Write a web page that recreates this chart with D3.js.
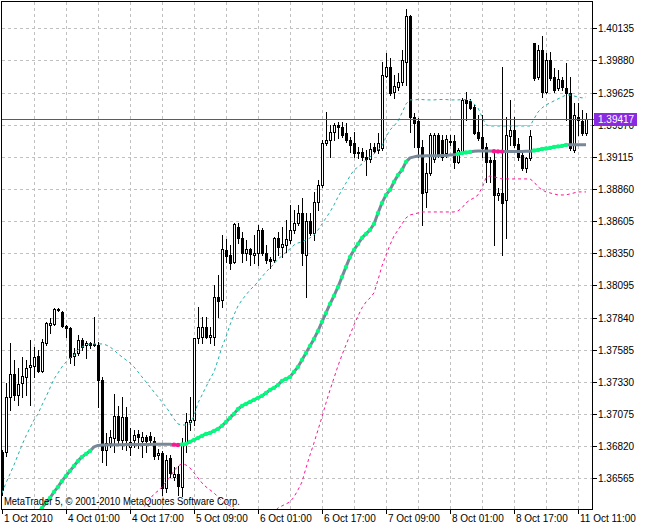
<!DOCTYPE html>
<html><head><meta charset="utf-8">
<script src="https://cdn.jsdelivr.net/npm/d3@7"></script>
<style>
body{margin:0;background:#fff}
svg{display:block}
text{font-family:"Liberation Sans",Arial,sans-serif;font-size:10px;fill:#000}
</style>
</head><body>
<svg id="chart" width="646" height="527"></svg>
<script>
// ---------- DATA (EURUSD H1) ----------
const opens = [1.36774,1.36774,1.37211,1.37393,1.37226,1.37322,1.37369,1.37449,1.37457,1.37536,
1.37417,1.37639,1.37782,1.37790,1.37901,1.37885,1.37774,1.37758,1.37536,1.37560,
1.37663,1.37623,1.37639,1.37623,1.37623,1.37345,1.36790,1.36846,1.36885,1.37060,
1.36869,1.37052,1.36814,1.36869,1.36917,1.36862,1.36893,1.36901,1.36862,1.36750,
1.36766,1.36489,1.36727,1.36576,1.36600,1.36497,1.36838,1.37012,1.37028,1.37679,
1.37687,1.37766,1.37687,1.37687,1.38004,1.37980,1.38377,1.38337,1.38282,1.38559,
1.38472,1.38353,1.38385,1.38337,1.38353,1.38535,1.38353,1.38305,1.38297,1.38472,
1.38401,1.38416,1.38456,1.38535,1.38591,1.38670,1.38337,1.38607,1.38512,1.38758,
1.38892,1.39226,1.39249,1.39313,1.39368,1.39353,1.39305,1.39249,1.39226,1.39146,
1.39154,1.39115,1.39099,1.39194,1.39170,1.39186,1.39757,1.39828,1.39630,1.39670,
1.39709,1.39868,1.40233,1.39432,1.39400,1.39194,1.38837,1.38988,1.39099,1.39289,
1.39249,1.39146,1.39241,1.39241,1.39075,1.39154,1.39567,1.39559,1.39511,1.39313,
1.39273,1.39194,1.39091,1.39091,1.38813,1.38829,1.38773,1.39281,1.39329,1.39218,
1.39130,1.39027,1.39107,1.40019,1.39749,1.39963,1.39630,1.39884,1.39749,1.39662,
1.39725,1.39662,1.39622,1.39170,1.39432,1.39400,1.39305];

const highs = [1.36790,1.37322,1.37639,1.37504,1.37441,1.37528,1.37504,1.37663,1.37607,1.37583,
1.37671,1.37806,1.37837,1.37917,1.37917,1.37893,1.37782,1.37766,1.37599,1.37702,
1.37679,1.37655,1.37647,1.37845,1.37647,1.37369,1.36925,1.36949,1.37234,1.37139,
1.37211,1.37131,1.36965,1.36949,1.36949,1.36933,1.36909,1.36933,1.36893,1.36798,
1.36782,1.36750,1.36750,1.36655,1.36663,1.36885,1.37084,1.37211,1.37679,1.37925,
1.37845,1.37845,1.37766,1.38099,1.38178,1.38496,1.38464,1.38416,1.38591,1.38591,
1.38520,1.38456,1.38393,1.38496,1.38575,1.38551,1.38416,1.38321,1.38480,1.38520,
1.38559,1.38615,1.38734,1.38694,1.38734,1.38789,1.38670,1.38670,1.38837,1.38932,
1.39249,1.39471,1.39368,1.39384,1.39392,1.39392,1.39384,1.39273,1.39313,1.39194,
1.39186,1.39170,1.39226,1.39226,1.39305,1.39868,1.39940,1.39900,1.39765,1.39781,
1.39963,1.40289,1.40241,1.39464,1.39424,1.39249,1.39067,1.39305,1.39305,1.39305,
1.39289,1.39289,1.39289,1.39289,1.39186,1.39583,1.39630,1.39575,1.39527,1.39448,
1.39448,1.39226,1.39115,1.39146,1.38869,1.39828,1.39432,1.39567,1.39432,1.39265,
1.39154,1.39115,1.39329,1.40019,1.40003,1.40074,1.39940,1.39947,1.39821,1.39805,
1.39749,1.39860,1.39749,1.39543,1.39543,1.39487,1.39464];

const lows = [1.36433,1.36743,1.37107,1.37187,1.37147,1.37211,1.37226,1.37147,1.37369,1.37409,
1.37409,1.37623,1.37718,1.37782,1.37893,1.37766,1.37687,1.37480,1.37464,1.37544,
1.37583,1.37520,1.37599,1.37615,1.37131,1.36695,1.36671,1.36814,1.36774,1.36846,
1.36798,1.36790,1.36750,1.36814,1.36806,1.36735,1.36774,1.36830,1.36719,1.36719,
1.36433,1.36457,1.36576,1.36552,1.36433,1.36425,1.36774,1.36949,1.36988,1.37639,
1.37639,1.37679,1.37639,1.37623,1.37845,1.37925,1.38282,1.38226,1.38274,1.38432,
1.38282,1.38297,1.38258,1.38274,1.38258,1.38337,1.38274,1.38234,1.38282,1.38337,
1.38321,1.38361,1.38432,1.38512,1.38575,1.38258,1.38004,1.38496,1.38456,1.38694,
1.38877,1.39210,1.39115,1.39249,1.39265,1.39273,1.39234,1.39154,1.39115,1.39107,
1.39091,1.38972,1.39075,1.39146,1.39146,1.39170,1.39749,1.39606,1.39583,1.39646,
1.39686,1.39686,1.39313,1.39194,1.39115,1.38575,1.38718,1.38972,1.39075,1.39115,
1.39091,1.39115,1.39210,1.39027,1.39067,1.39146,1.39408,1.39495,1.39297,1.39249,
1.39115,1.38916,1.38916,1.38416,1.38773,1.38337,1.38472,1.39210,1.39194,1.39091,
1.39011,1.38996,1.39091,1.39725,1.39733,1.39590,1.39622,1.39725,1.39630,1.39646,
1.39646,1.39408,1.39170,1.39154,1.39289,1.39289,1.39289];

const closes = [1.36473,1.37211,1.37393,1.37226,1.37314,1.37377,1.37441,1.37464,1.37528,1.37417,
1.37647,1.37798,1.37798,1.37909,1.37909,1.37774,1.37758,1.37528,1.37560,1.37663,
1.37607,1.37639,1.37623,1.37631,1.37345,1.36790,1.36846,1.36893,1.37060,1.36869,
1.37052,1.36869,1.36854,1.36909,1.36893,1.36893,1.36862,1.36869,1.36743,1.36766,
1.36489,1.36711,1.36608,1.36600,1.36505,1.36838,1.37012,1.37028,1.37679,1.37766,
1.37766,1.37687,1.37702,1.38004,1.37972,1.38385,1.38329,1.38274,1.38583,1.38472,
1.38353,1.38385,1.38345,1.38353,1.38535,1.38353,1.38297,1.38289,1.38472,1.38401,
1.38424,1.38464,1.38535,1.38591,1.38670,1.38353,1.38607,1.38512,1.38758,1.38892,
1.39226,1.39249,1.39313,1.39368,1.39353,1.39289,1.39249,1.39210,1.39146,1.39154,
1.39115,1.39099,1.39178,1.39162,1.39226,1.39765,1.39828,1.39622,1.39678,1.39709,
1.39884,1.40233,1.39432,1.39384,1.39194,1.38829,1.38988,1.39289,1.39289,1.39122,
1.39115,1.39257,1.39234,1.39075,1.39170,1.39567,1.39543,1.39503,1.39305,1.39265,
1.39186,1.39075,1.39075,1.38813,1.38829,1.38750,1.39289,1.39329,1.39210,1.39115,
1.39027,1.39107,1.39281,1.39741,1.39963,1.39630,1.39884,1.39741,1.39646,1.39733,
1.39670,1.39622,1.39186,1.39448,1.39408,1.39305,1.39417];

// adaptive moving average (centre line)
const maCenter = [null,null,null,null,null,null,null,null,null,
1.36290,1.36330,1.36370,1.36409,1.36457,1.36497,1.36544,1.36584,1.36624,1.36663,
1.36703,1.36735,1.36758,1.36782,1.36814,1.36826,
1.36829,1.36830,1.36831,1.36831,1.36832,1.36832,1.36833,1.36833,1.36833,1.36834,1.36834,1.36834,1.36834,1.36835,1.36835,1.36835,1.36835,1.36835,
1.36832,1.36829,
1.36834,1.36838,1.36854,1.36869,1.36885,1.36901,1.36917,1.36925,1.36941,1.36957,
1.36981,1.37012,1.37044,1.37076,1.37115,1.37139,1.37155,1.37171,1.37187,1.37203,
1.37219,1.37242,1.37266,1.37282,1.37306,1.37338,1.37353,1.37369,1.37409,1.37449,
1.37504,1.37560,1.37615,1.37671,1.37734,1.37806,1.37877,1.37948,1.38012,1.38083,
1.38163,1.38242,1.38321,1.38377,1.38424,1.38472,1.38504,1.38535,1.38583,1.38670,
1.38750,1.38813,1.38853,1.38916,1.38972,1.39011,1.39075,1.39107,1.39115,1.39122,
1.39122,1.39123,1.39123,1.39124,1.39124,1.39125,1.39125,1.39130,1.39131,1.39138,
1.39146,1.39150,1.39154,1.39160,1.39161,1.39162,1.39162,1.39162,1.39160,1.39158,
1.39157,1.39157,1.39157,1.39158,1.39158,1.39158,1.39159,1.39159,1.39165,1.39170,
1.39178,1.39182,1.39186,1.39194,1.39198,1.39202,1.39210,1.39211,1.39211,1.39212,
1.39212,1.39212];

// trend state of the centre line: [firstBar, lastBar, state] (1 up, -1 down, 0 flat)
const maTrendRuns = [[9,22,1],[23,42,0],[43,44,-1],[45,101,1],[102,113,0],[114,117,1],
[118,122,0],[123,125,-1],[126,132,0],[133,141,1],[142,146,0]];

const bandUpper = [1.36449,1.36528,1.36600,1.36671,1.36750,1.36830,1.36901,1.36965,1.37028,1.37076,
1.37147,1.37211,1.37282,1.37353,1.37401,1.37449,1.37488,1.37520,1.37544,1.37583,
1.37607,1.37623,1.37631,1.37631,1.37631,1.37631,1.37623,1.37607,1.37583,1.37552,
1.37528,1.37504,1.37480,1.37449,1.37409,1.37369,1.37330,1.37290,1.37250,1.37211,
1.37171,1.37131,1.37084,1.37036,1.36996,1.36988,1.36988,1.36996,1.37060,1.37163,
1.37226,1.37290,1.37353,1.37409,1.37504,1.37607,1.37687,1.37782,1.37861,1.37933,
1.37980,1.38020,1.38059,1.38091,1.38123,1.38163,1.38202,1.38234,1.38266,1.38305,
1.38329,1.38361,1.38385,1.38416,1.38432,1.38440,1.38456,1.38472,1.38496,1.38535,
1.38583,1.38631,1.38678,1.38734,1.38797,1.38853,1.38908,1.38964,1.39011,1.39035,
1.39059,1.39091,1.39115,1.39138,1.39170,1.39202,1.39273,1.39329,1.39360,1.39400,
1.39464,1.39535,1.39567,1.39567,1.39570,1.39570,1.39567,1.39567,1.39567,1.39570,
1.39570,1.39570,1.39567,1.39567,1.39567,1.39570,1.39570,1.39567,1.39535,1.39503,
1.39432,1.39368,1.39360,1.39360,1.39360,1.39360,1.39360,1.39360,1.39360,1.39360,
1.39360,1.39360,1.39360,1.39416,1.39471,1.39503,1.39527,1.39543,1.39559,1.39575,
1.39590,1.39606,1.39606,1.39598,1.39590,1.39583,1.39590];

const bandLower = [null,null,null,null,null,null,null,null,null,null,
null,null,null,null,null,null,null,null,null,null,
null,null,null,null,null,null,null,null,null,null,
null,null,null,null,null,
1.36298,1.36370,1.36401,1.36441,1.36465,
1.36497,1.36536,1.36576,1.36624,1.36663,1.36679,1.36671,1.36647,1.36608,1.36568,
1.36528,1.36497,1.36473,1.36449,1.36417,1.36386,1.36362,1.36346,1.36322,1.36298,
1.36282,1.36266,1.36258,1.36250,1.36250,1.36258,1.36266,1.36282,1.36298,1.36330,
1.36346,1.36362,1.36378,1.36417,1.36473,1.36536,1.36647,1.36750,1.36846,1.36949,
1.37052,1.37163,1.37266,1.37361,1.37457,1.37544,1.37623,1.37702,1.37782,1.37853,
1.37917,1.37964,1.37996,1.38036,1.38139,1.38250,1.38337,1.38416,1.38488,1.38535,
1.38583,1.38631,1.38654,1.38662,1.38670,1.38678,1.38678,1.38678,1.38678,1.38678,
1.38678,1.38678,1.38678,1.38678,1.38686,1.38710,1.38750,1.38773,1.38789,1.38813,
1.38869,1.38948,1.38964,1.38956,1.38948,1.38940,1.38940,1.38940,1.38940,1.38940,
1.38940,1.38940,1.38940,1.38916,1.38877,1.38853,1.38837,1.38829,1.38821,1.38813,
1.38813,1.38813,1.38821,1.38829,1.38837,1.38837,1.38837];

const priceTicks = [1.40135,1.39880,1.39625,1.39370,1.39115,1.38860,1.38605,1.38350,
1.38095,1.37840,1.37585,1.37330,1.37075,1.36820,1.36565];
const timeTickBars = [0,16,32,48,64,80,96,112,128,144];
const timeTickLabels = ["1 Oct 2010","4 Oct 01:00","4 Oct 17:00","5 Oct 09:00","6 Oct 01:00",
"6 Oct 17:00","7 Oct 09:00","8 Oct 01:00","8 Oct 17:00","11 Oct 11:00"];
const lastPrice = 1.39417;
const copyright = "MetaTrader 5, \u00A9 2001-2010 MetaQuotes Software Corp.";

// ---------- DRAWING ----------
const svg = d3.select('#chart');
const L = 2, T = 2, R = 592, B = 509;
const x = d3.scaleLinear().domain([-0.5, 147.25]).range([0, 591]);
const y = d3.scaleLinear().domain([1.36565, 1.40135]).range([478.3, 28.3]);
const py = v => Math.round(y(v));

svg.append('rect').attr('width', 646).attr('height', 527).attr('fill', '#fff');
svg.append('defs').append('clipPath').attr('id', 'plot')
  .append('rect').attr('x', L).attr('y', T).attr('width', R - L).attr('height', B - T);

// grid
const grid = svg.append('g').attr('stroke', '#c0c0c0').attr('stroke-dasharray', '3,3')
  .attr('shape-rendering', 'crispEdges');
grid.selectAll('line.gh').data(priceTicks).join('line').attr('class', 'gh')
  .attr('x1', L).attr('x2', R).attr('y1', d => py(d) + 0.5).attr('y2', d => py(d) + 0.5);
grid.selectAll('line.gv').data(d3.range(8, opens.length, 8)).join('line').attr('class', 'gv')
  .attr('x1', d => x(d) + 0.5).attr('x2', d => x(d) + 0.5).attr('y1', T).attr('y2', B);

const idx = d3.range(opens.length);
const plotG = svg.append('g').attr('clip-path', 'url(#plot)');

// candles
const cg = plotG.append('g').attr('shape-rendering', 'crispEdges');
cg.selectAll('line.wick').data(idx).join('line').attr('class', 'wick')
  .attr('x1', i => x(i) + 0.5).attr('x2', i => x(i) + 0.5)
  .attr('y1', i => py(highs[i])).attr('y2', i => py(lows[i]) + 1)
  .attr('stroke', '#000');
cg.selectAll('rect.body').data(idx).join('rect').attr('class', 'body')
  .each(function(i) {
    const top = py(Math.max(opens[i], closes[i]));
    const bot = py(Math.min(opens[i], closes[i]));
    const s = d3.select(this);
    if (closes[i] > opens[i] && bot - top >= 2) {
      s.attr('x', x(i) - 0.5).attr('y', top + 0.5).attr('width', 2).attr('height', bot - top)
        .attr('fill', '#fff').attr('stroke', '#000');
    } else {
      s.attr('x', x(i) - 1).attr('y', top).attr('width', 3).attr('height', Math.max(bot - top, 0) + 1)
        .attr('fill', '#000');
    }
  });

// bands
const lineGen = d3.line().defined(d => d != null).x((d, i) => x(i)).y(d => y(d));
plotG.append('path').datum(bandUpper).attr('d', lineGen).attr('fill', 'none')
  .attr('stroke', '#20B2AA').attr('stroke-width', 1).attr('stroke-dasharray', '3,3');
plotG.append('path').datum(bandLower).attr('d', lineGen).attr('fill', 'none')
  .attr('stroke', '#FF1493').attr('stroke-width', 1).attr('stroke-dasharray', '3,3');

// centre line
plotG.append('path').datum(maCenter).attr('d', lineGen).attr('fill', 'none')
  .attr('stroke', '#778899').attr('stroke-width', 3).attr('stroke-linejoin', 'round');
const marks = maTrendRuns.flatMap(([a, b, s]) => s === 0 ? [] : d3.range(a, b + 1).map(i => ({ i, s })));
plotG.selectAll('circle.mk').data(marks).join('circle').attr('class', 'mk')
  .attr('cx', d => x(d.i)).attr('cy', d => y(maCenter[d.i])).attr('r', 2.2)
  .attr('fill', d => d.s > 0 ? '#00FF7F' : '#FF1493');

// current price line
svg.append('line').attr('x1', L).attr('x2', R + 2)
  .attr('y1', py(lastPrice) + 0.5).attr('y2', py(lastPrice) + 0.5)
  .attr('stroke', '#8A2BE2').attr('shape-rendering', 'crispEdges');

// frame
svg.append('rect').attr('x', 1.5).attr('y', 1.5).attr('width', R - 1).attr('height', B - 1)
  .attr('fill', 'none').attr('stroke', '#000').attr('shape-rendering', 'crispEdges');

// price axis
const ax = svg.append('g');
ax.selectAll('line.pt').data(priceTicks).join('line').attr('class', 'pt')
  .attr('x1', R + 1).attr('x2', R + 5).attr('y1', d => py(d) + 0.5).attr('y2', d => py(d) + 0.5)
  .attr('stroke', '#000').attr('shape-rendering', 'crispEdges');
ax.selectAll('text.pl').data(priceTicks).join('text').attr('class', 'pl')
  .attr('x', R + 6).attr('y', d => py(d) + 4).text(d => d.toFixed(5));

// last price tag
const ly = py(lastPrice);
svg.append('rect').attr('x', R + 2).attr('y', ly - 6).attr('width', 43).attr('height', 13)
  .attr('fill', '#8A2BE2');
svg.append('text').attr('x', R + 6).attr('y', ly + 4).style('fill', '#fff').text(lastPrice.toFixed(5));

// time axis
ax.selectAll('line.tt').data(timeTickBars).join('line').attr('class', 'tt')
  .attr('x1', d => x(d) + 0.5).attr('x2', d => x(d) + 0.5).attr('y1', B).attr('y2', B + 5)
  .attr('stroke', '#000').attr('shape-rendering', 'crispEdges');
ax.selectAll('text.tl').data(timeTickBars).join('text').attr('class', 'tl')
  .attr('x', d => x(d) + 2).attr('y', 522).text((d, i) => timeTickLabels[i]);

// copyright
svg.append('text').attr('x', 4).attr('y', 505).attr('textLength', 236)
  .attr('lengthAdjust', 'spacingAndGlyphs').style('font-size', '10.5px').text(copyright);
</script>
</body></html>
